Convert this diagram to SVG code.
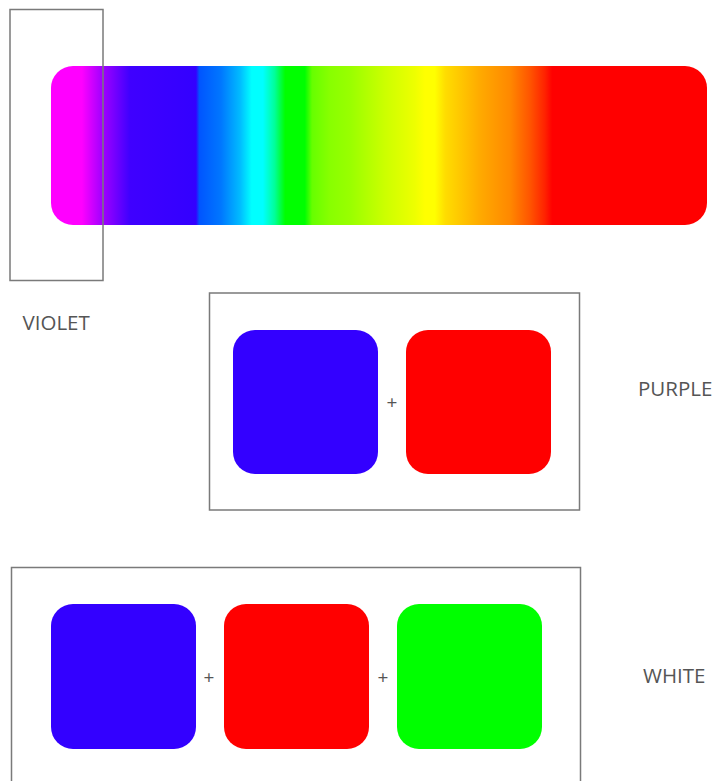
<svg xmlns="http://www.w3.org/2000/svg" width="713" height="781" viewBox="0 0 713 781">
<style>
.frame{fill:none;stroke:#7a7a7a;stroke-width:1.5}
.lbl{font-family:"Open Sans","Noto Sans",sans-serif;font-size:20.5px;fill:#555}
.plus{font-family:"Open Sans","Noto Sans",sans-serif;font-size:19px;fill:#555;text-anchor:middle}
.blue{fill:#3300ff}
.red{fill:#ff0000}
.green{fill:#00ff00}
</style>
<defs>
<linearGradient id="spec" gradientUnits="userSpaceOnUse" x1="51" y1="0" x2="707" y2="0">
<stop offset="0" stop-color="#ff00ff"/>
<stop offset="0.047" stop-color="#ff00ff"/>
<stop offset="0.075" stop-color="#aa00ff"/>
<stop offset="0.12" stop-color="#3f00ff"/>
<stop offset="0.221" stop-color="#3300ff"/>
<stop offset="0.226" stop-color="#0055ff"/>
<stop offset="0.259" stop-color="#0077ff"/>
<stop offset="0.288" stop-color="#00bbff"/>
<stop offset="0.306" stop-color="#00ffff"/>
<stop offset="0.323" stop-color="#00ffff"/>
<stop offset="0.341" stop-color="#00ff99"/>
<stop offset="0.357" stop-color="#00ff00"/>
<stop offset="0.387" stop-color="#00ff00"/>
<stop offset="0.398" stop-color="#66ff00"/>
<stop offset="0.425" stop-color="#88ff00"/>
<stop offset="0.456" stop-color="#99ff00"/>
<stop offset="0.509" stop-color="#ccff00"/>
<stop offset="0.555" stop-color="#eeff00"/>
<stop offset="0.570" stop-color="#ffff00"/>
<stop offset="0.585" stop-color="#ffff00"/>
<stop offset="0.601" stop-color="#ffdd00"/>
<stop offset="0.654" stop-color="#ffaa00"/>
<stop offset="0.700" stop-color="#ff8800"/>
<stop offset="0.730" stop-color="#ff5500"/>
<stop offset="0.753" stop-color="#ff2200"/>
<stop offset="0.764" stop-color="#ff0000"/>
<stop offset="1" stop-color="#ff0000"/>
</linearGradient>
</defs>
<g id="spectrum">
<rect x="51" y="66" width="656" height="159" rx="22" ry="22" fill="url(#spec)"/>
</g>
<g id="violet">
<rect class="frame" x="10" y="9.5" width="93" height="271"/>
<text class="lbl" x="22.500" y="330">VIOLET</text>
</g>
<g id="purple">
<rect class="frame" x="209.5" y="293" width="370" height="217"/>
<rect class="blue" x="233" y="330" width="145" height="144" rx="22" ry="22"/>
<text class="plus" x="392" y="409">+</text>
<rect class="red" x="406" y="330" width="145" height="144" rx="22" ry="22"/>
<text class="lbl" x="638" y="396">PURPLE</text>
</g>
<g id="white">
<rect class="frame" x="11.5" y="567.5" width="569" height="230"/>
<rect class="blue" x="51" y="604" width="145" height="145" rx="22" ry="22"/>
<text class="plus" x="209" y="684">+</text>
<rect class="red" x="224" y="604" width="145" height="145" rx="22" ry="22"/>
<text class="plus" x="383" y="684">+</text>
<rect class="green" x="397" y="604" width="145" height="145" rx="22" ry="22"/>
<text class="lbl" x="643" y="683">WHITE</text>
</g>
<g id="connectors"/>
</svg>
